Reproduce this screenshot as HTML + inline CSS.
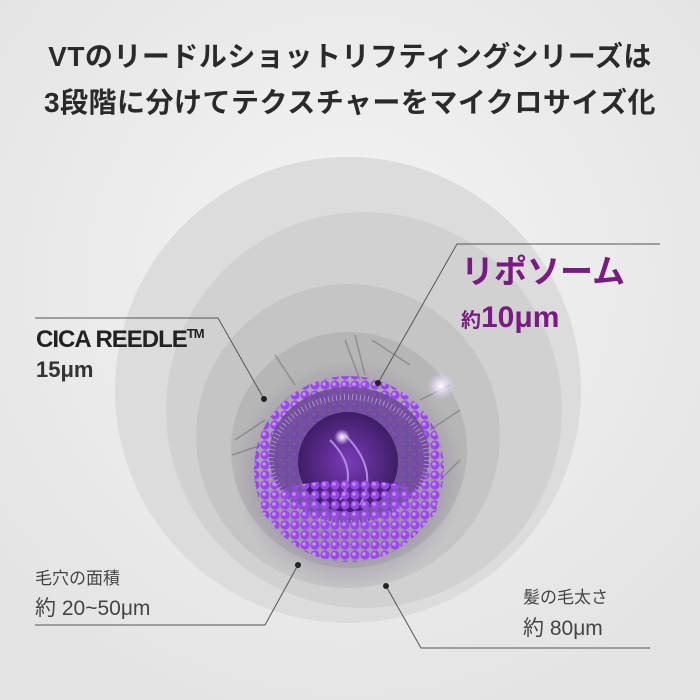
<!DOCTYPE html>
<html><head><meta charset="utf-8"><style>
html,body{margin:0;padding:0;}
body{width:700px;height:700px;overflow:hidden;background:#e9e9e9;font-family:"Liberation Sans","Noto Sans CJK JP",sans-serif;}
</style></head><body>
<svg width="700" height="700" viewBox="0 0 700 700" xmlns="http://www.w3.org/2000/svg" style="display:block">
<defs>
<radialGradient id="bg" cx="50%" cy="40%" r="65%">
<stop offset="0" stop-color="#f4f4f4"/><stop offset="1" stop-color="#e4e4e4"/></radialGradient>
<radialGradient id="inner" cx="50%" cy="50%" r="50%">
<stop offset="0" stop-color="#7a3ab8"/><stop offset="1" stop-color="#3e1d66"/></radialGradient>
<radialGradient id="glow" cx="50%" cy="50%" r="50%">
<stop offset="0" stop-color="#ffffff"/><stop offset="0.4" stop-color="#f4e8ff" stop-opacity="0.7"/><stop offset="1" stop-color="#e0c8ff" stop-opacity="0"/></radialGradient>
<radialGradient id="shade" cx="50%" cy="50%" r="50%">
<stop offset="0.6" stop-color="#6a4a8a" stop-opacity="0.35"/><stop offset="1" stop-color="#6a4a8a" stop-opacity="0"/></radialGradient>
<pattern id="dots" width="10" height="10" patternUnits="userSpaceOnUse">
<circle cx="5" cy="5" r="4.6" fill="#9a48ec"/><circle cx="4" cy="4" r="1.8" fill="#c890ff"/></pattern>
</defs>
<rect width="700" height="700" fill="url(#bg)"/>
<text x="350" y="66" text-anchor="middle" font-size="28" font-weight="bold" fill="#2a2a2a" letter-spacing="0.5">VTのリードルショットリフティングシリーズは</text>
<text x="350" y="112" text-anchor="middle" font-size="28" font-weight="bold" fill="#2a2a2a" letter-spacing="0.5">3段階に分けてテクスチャーをマイクロサイズ化</text>
<circle cx="348" cy="390" r="233" fill="#dcdcdc"/>
<circle cx="364" cy="410" r="198" fill="#d1d1d1"/>
<circle cx="348" cy="436" r="152" fill="#c5c5c5"/>
<circle cx="349" cy="450" r="118" fill="#b6b6b6"/>
<g stroke="#8f8f8f" stroke-width="1.5">
<line x1="345" y1="340" x2="360" y2="380"/><line x1="355" y1="335" x2="365" y2="375"/><line x1="372" y1="340" x2="410" y2="365"/>
<line x1="235" y1="440" x2="265" y2="420"/><line x1="232" y1="455" x2="262" y2="445"/><line x1="420" y1="400" x2="450" y2="385"/>
<line x1="430" y1="430" x2="460" y2="410"/><line x1="275" y1="355" x2="295" y2="385"/><line x1="440" y1="480" x2="460" y2="460"/>
</g>
<circle cx="349" cy="475" r="115" fill="url(#shade)"/>
<ellipse cx="349" cy="469" rx="95" ry="93" fill="url(#dots)"/>
<ellipse cx="349" cy="455" rx="80" ry="68" fill="#6d4a96" opacity="0.85"/>
<ellipse cx="349" cy="460" rx="78" ry="63" fill="none" stroke="#c9b8e0" stroke-width="6" stroke-dasharray="1 3" opacity="0.6"/>
<circle cx="348" cy="462" r="50" fill="url(#inner)"/>
<path d="M330 440 Q360 470 340 500 M345 435 Q380 470 360 505" stroke="#b08ae0" stroke-width="2" fill="none"/>
<ellipse cx="349" cy="508" rx="88" ry="28" fill="url(#dots)" opacity="0.95"/>
<circle cx="441" cy="386" r="14" fill="url(#glow)"/>
<circle cx="342" cy="437" r="8" fill="url(#glow)"/>
<g stroke="#555" stroke-width="1" fill="none">
<polyline points="35,318 218,318 264,399"/>
<polyline points="660,244 457,244 378,383"/>
<polyline points="35,625 265,625 298,565"/>
<polyline points="386,586 421,648 650,648"/>
</g>
<g fill="#222"><circle cx="264" cy="399" r="3"/><circle cx="378" cy="383" r="3"/><circle cx="298" cy="565" r="3"/><circle cx="386" cy="586" r="3"/></g>
<text x="36" y="347" font-size="24" font-weight="bold" fill="#222" letter-spacing="-1">CICA REEDLE<tspan font-size="13" dy="-9">TM</tspan></text>
<text x="36" y="377" font-size="22" font-weight="bold" fill="#333">15μm</text>
<text x="461" y="283" font-size="33" font-weight="bold" fill="#7a1a82">リポソーム</text>
<text x="461" y="327" font-size="20" font-weight="bold" fill="#7a1a82">約<tspan font-size="30">10μm</tspan></text>
<text x="35" y="584" font-size="17" fill="#444">毛穴の面積</text>
<text x="35" y="615" font-size="21" fill="#444">約 20~50μm</text>
<text x="523" y="603" font-size="17" fill="#444">髪の毛太さ</text>
<text x="523" y="635" font-size="21" fill="#444">約 80μm</text>
</svg>
</body></html>
